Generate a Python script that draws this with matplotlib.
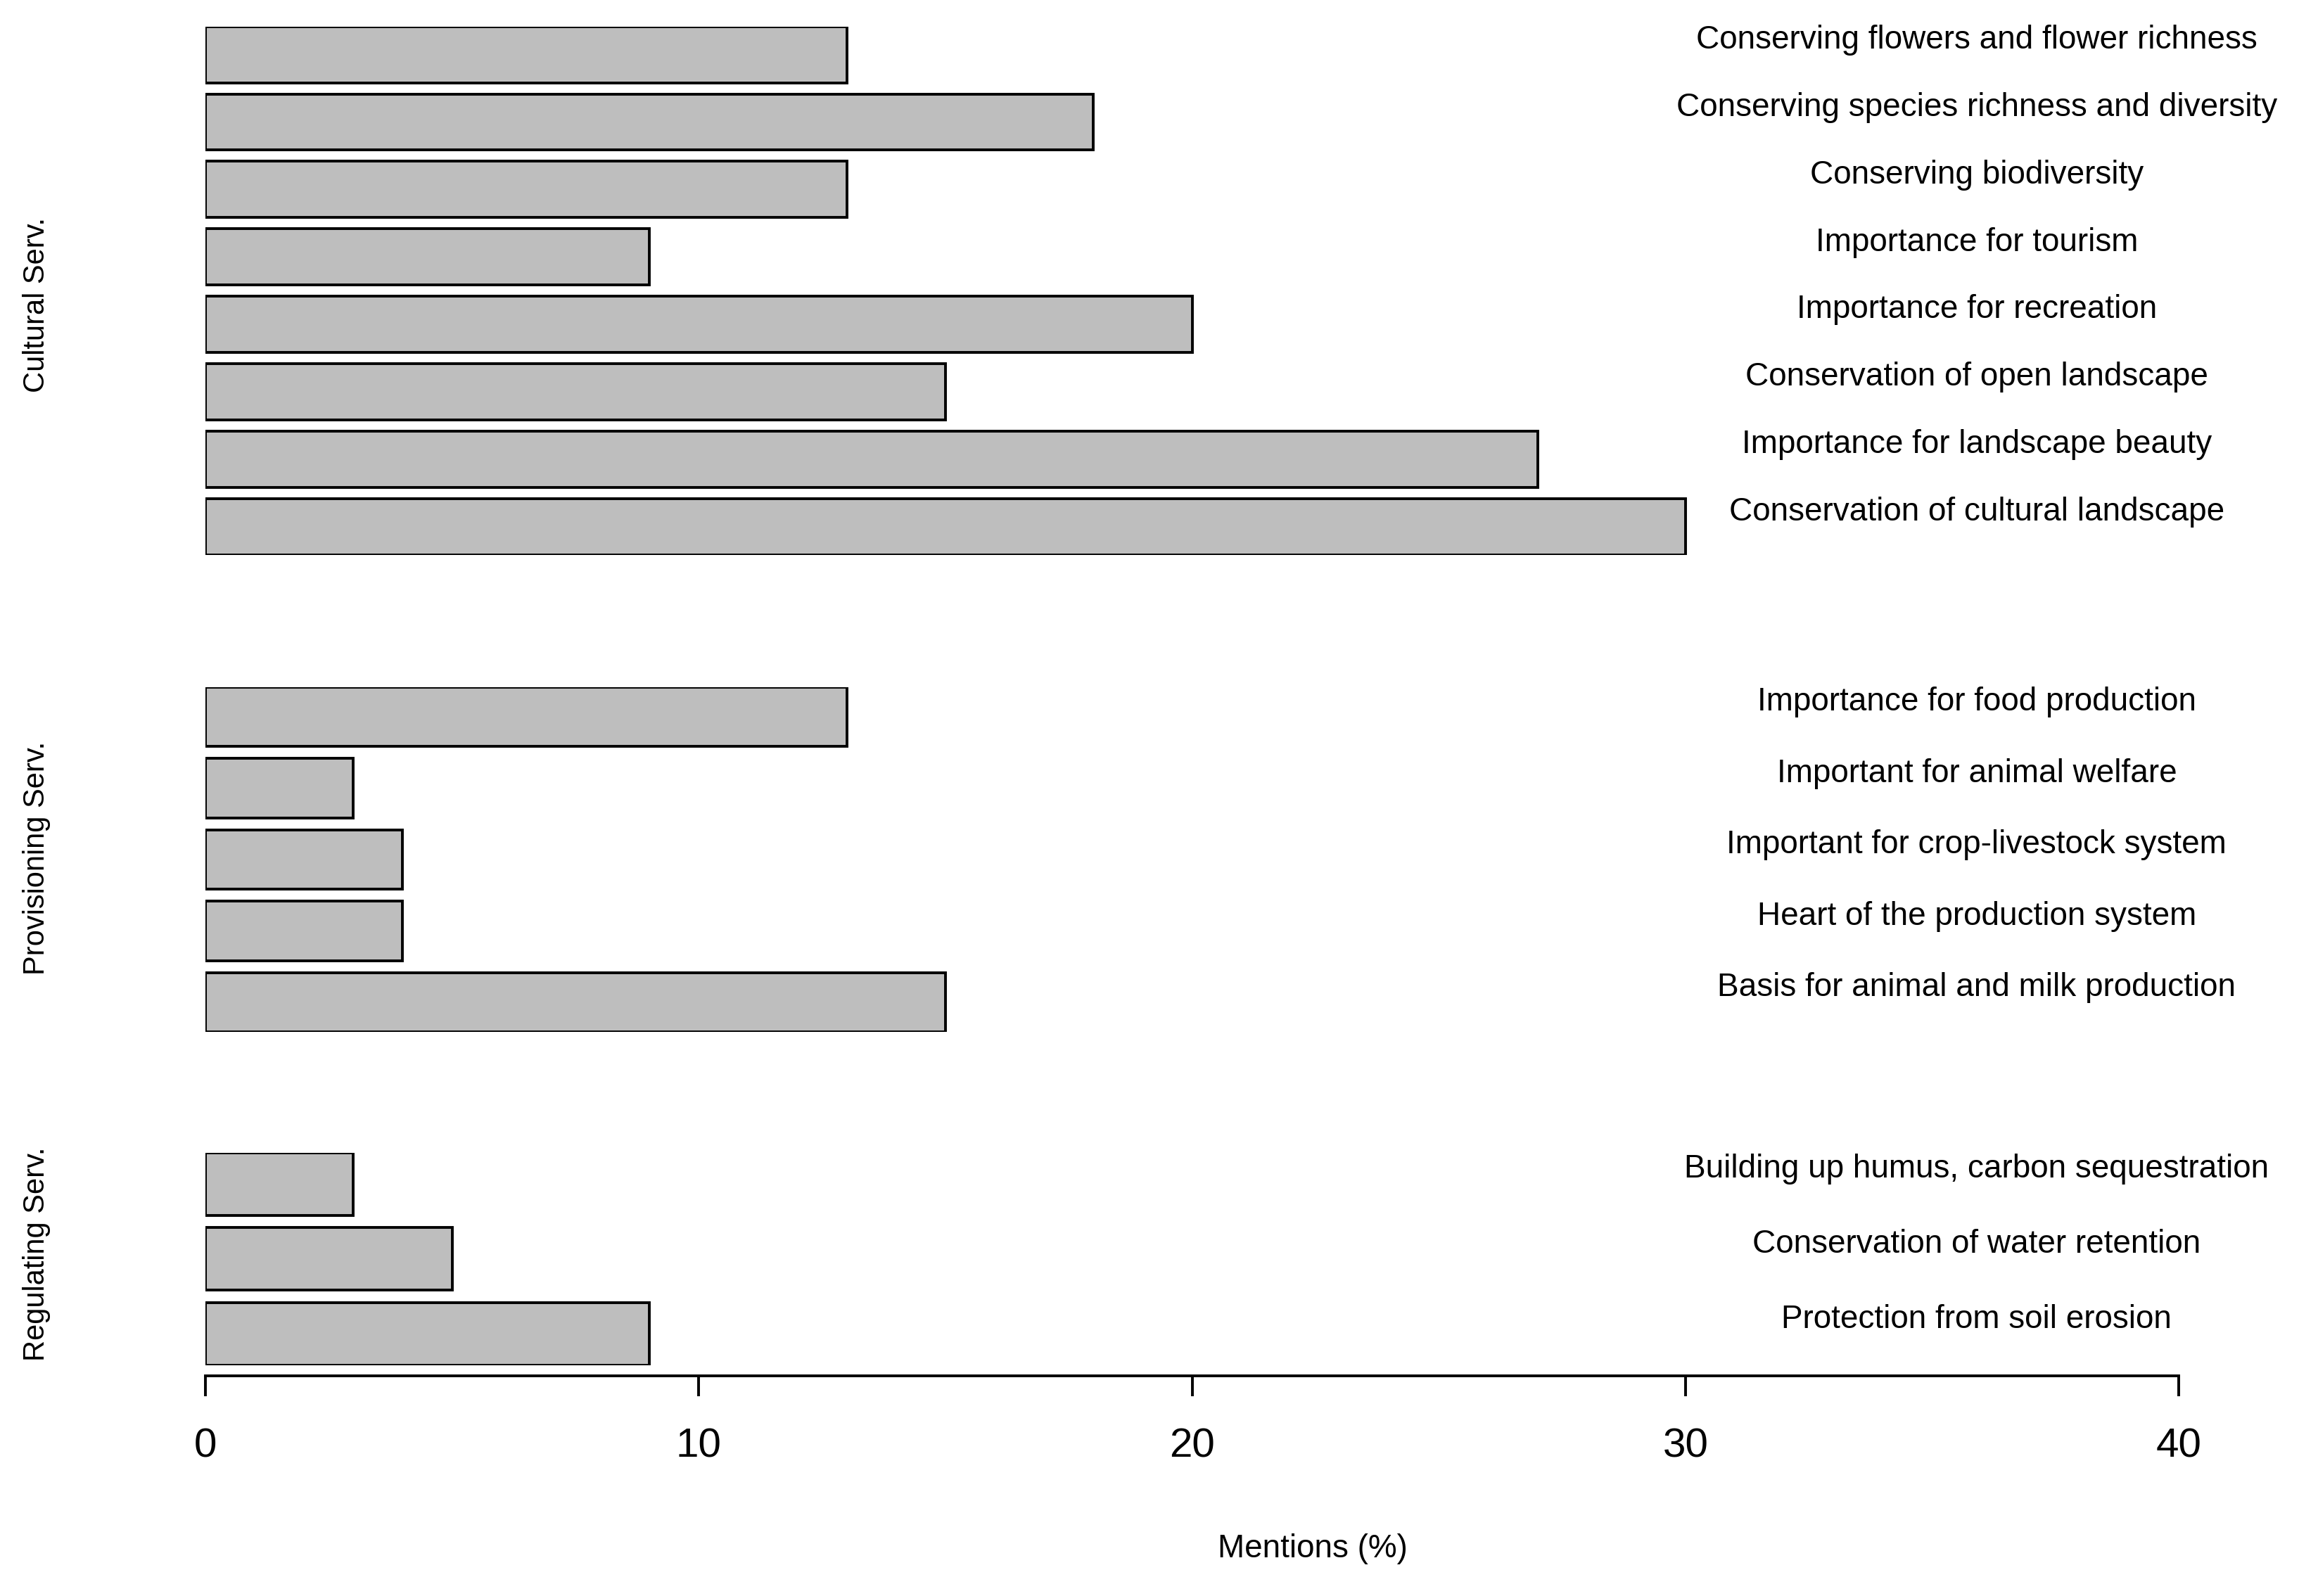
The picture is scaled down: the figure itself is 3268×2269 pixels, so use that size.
import matplotlib
matplotlib.use("Agg")
import matplotlib.pyplot as plt

# values (mentions in %), listed top to bottom
cultural_labels = ["Conserving flowers and flower richness",
                   "Conserving species richness and diversity",
                   "Conserving biodiversity",
                   "Importance for tourism",
                   "Importance for recreation",
                   "Conservation of open landscape",
                   "Importance for landscape beauty",
                   "Conservation of cultural landscape"]
cultural_vals = [13, 18, 13, 9, 20, 15, 27, 30]

prov_labels = ["Importance for food production",
               "Important for animal welfare",
               "Important for crop-livestock system",
               "Heart of the production system",
               "Basis for animal and milk production"]
prov_vals = [13, 3, 4, 4, 15]

reg_labels = ["Building up humus, carbon sequestration",
              "Conservation of water retention",
              "Protection from soil erosion"]
reg_vals = [3, 5, 9]

xticks = [0, 10, 20, 30, 40]

font = ["Liberation Sans", "DejaVu Sans"]

fig = plt.figure(figsize=(16.34, 11.345), dpi=200)

panels = [
    (cultural_labels, cultural_vals, "Cultural Serv.", [0.0893, 0.6523, 0.8585, 0.3311], 0.809),
    (prov_labels, prov_vals, "Provisioning Serv.", [0.0893, 0.3533, 0.8585, 0.2162], 0.4625),
    (reg_labels, reg_vals, "Regulating Serv.", [0.0893, 0.1445, 0.8585, 0.1333], 0.2143),
]

for i, (labels, vals, name, rect, ymid) in enumerate(panels):
    ax = fig.add_axes(rect)
    n = len(vals)
    pos = [k * 1.2 + 0.5 for k in range(n)]
    ax.barh(pos, vals, height=1.0, color="#bebebe", edgecolor="black", linewidth=1.4)
    ax.set_xlim(0, 40)
    ax.set_ylim(n * 1.2 - 0.2, 0)
    for p, lab in zip(pos, labels):
        ax.annotate(lab, (35.9, p), xytext=(0, 7.5), textcoords="offset points",
                    ha="center", va="center", fontsize=16.5, family=font,
                    annotation_clip=False)
    for s in ["top", "right", "left"]:
        ax.spines[s].set_visible(False)
    ax.set_yticks([])
    if i < 2:
        ax.spines["bottom"].set_visible(False)
        ax.set_xticks([])
    else:
        ax.spines["bottom"].set_position(("outward", 5.3))
        ax.spines["bottom"].set_linewidth(1.4)
        ax.set_xticks(xticks)
        ax.tick_params(axis="x", length=10.5, width=1.4, pad=16)
        for t in ax.get_xticklabels():
            t.set_fontsize(21)
            t.set_family(font)
    fig.text(0.016, ymid, name, rotation=90, ha="center", va="center",
             fontsize=15, family=font)

fig.text(0.571, 0.0294, "Mentions (%)", ha="center", va="center",
         fontsize=16.5, family=font)

fig.savefig("out.png", dpi=200, facecolor="white")
